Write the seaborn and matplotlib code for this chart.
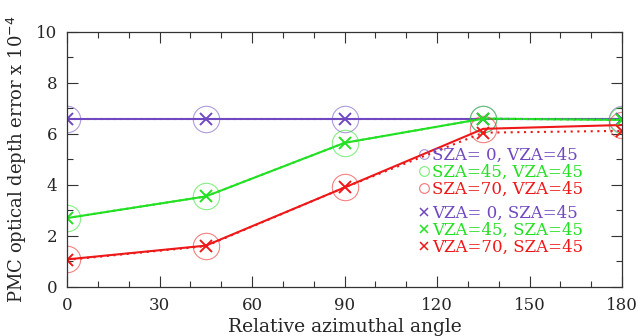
import matplotlib
matplotlib.use("Agg")
import matplotlib.pyplot as plt
import seaborn as sns
import pandas as pd
from matplotlib.lines import Line2D
from matplotlib.ticker import MultipleLocator
from matplotlib.colors import to_rgba

angles = [0, 45, 90, 135, 180]
# circles (solid lines): SZA varies, VZA=45
circ_sza0 = [6.57, 6.57, 6.57, 6.57, 6.57]
circ_sza45 = [2.70, 3.55, 5.65, 6.60, 6.55]
circ_sza70 = [1.08, 1.62, 3.90, 6.20, 6.35]
# crosses (dotted lines): VZA varies, SZA=45
x_vza0 = [6.57, 6.57, 6.57, 6.57, 6.57]
x_vza45 = [2.70, 3.55, 5.65, 6.60, 6.55]
x_vza70 = [1.06, 1.60, 3.90, 6.05, 6.12]

circ_labels = ["SZA= 0, VZA=45", "SZA=45, VZA=45", "SZA=70, VZA=45"]
x_labels = ["VZA= 0, SZA=45", "VZA=45, SZA=45", "VZA=70, SZA=45"]
colors = ["#7048c0", "#22e022", "#ee1818"]

sns.set_style("ticks")
plt.rcParams["font.family"] = ["DejaVu Serif"]

fig = plt.figure(figsize=(6.38, 3.36), dpi=100)
ax = fig.add_axes([0.105, 0.146, 0.870, 0.759])

for vals, c in zip([circ_sza0, circ_sza45, circ_sza70], colors):
    df = pd.DataFrame({"angle": angles, "err": vals})
    sns.lineplot(data=df, x="angle", y="err", ax=ax, color=c, lw=1.5,
                 marker="o", markersize=19, markerfacecolor="none",
                 markeredgecolor=to_rgba(c, 0.55), markeredgewidth=0.8)
for vals, c in zip([x_vza0, x_vza45, x_vza70], colors):
    df = pd.DataFrame({"angle": angles, "err": vals})
    sns.lineplot(data=df, x="angle", y="err", ax=ax, color=c, lw=1.5,
                 linestyle=(0, (1, 2.2)), marker="x", markersize=9,
                 markeredgewidth=1.4, markeredgecolor=c)

ax.set_xlim(0, 180)
ax.set_ylim(0, 10)
ax.xaxis.set_major_locator(MultipleLocator(30))
ax.xaxis.set_minor_locator(MultipleLocator(10))
ax.yaxis.set_major_locator(MultipleLocator(2))
ax.yaxis.set_minor_locator(MultipleLocator(1))
ax.tick_params(which="both", direction="in", top=True, right=True,
               labelsize=12, color="#333333")
ax.tick_params(which="major", length=8, width=0.8, pad=7)
ax.tick_params(which="minor", length=4, width=0.8)
for s in ax.spines.values():
    s.set_linewidth(0.9)
    s.set_color("#333333")
ax.set_xlabel("Relative azimuthal angle", fontsize=13.5, labelpad=3)
ax.set_ylabel(r"PMC optical depth error x 10$^{-4}$", fontsize=13, labelpad=5)


def make_legend(labels, marker, y):
    handles = []
    for c in colors:
        if marker == "o":
            handles.append(Line2D([], [], ls="none", marker="o", markersize=7,
                                  markerfacecolor="none",
                                  markeredgecolor=to_rgba(c, 0.6), markeredgewidth=0.8))
        else:
            handles.append(Line2D([], [], ls="none", marker="x", markersize=6,
                                  markeredgecolor=c, markeredgewidth=1.1))
    leg = ax.legend(handles, labels, loc="upper left", bbox_to_anchor=(0.635, y),
                    frameon=False, fontsize=12, handlelength=0.6, handletextpad=0.15,
                    labelspacing=0.0, borderpad=0, borderaxespad=0)
    for t, c in zip(leg.get_texts(), colors):
        t.set_color(c)
    return leg


leg1 = make_legend(circ_labels, "o", 0.55)
ax.add_artist(leg1)
make_legend(x_labels, "x", 0.322)

fig.savefig("out.png", dpi=100)
